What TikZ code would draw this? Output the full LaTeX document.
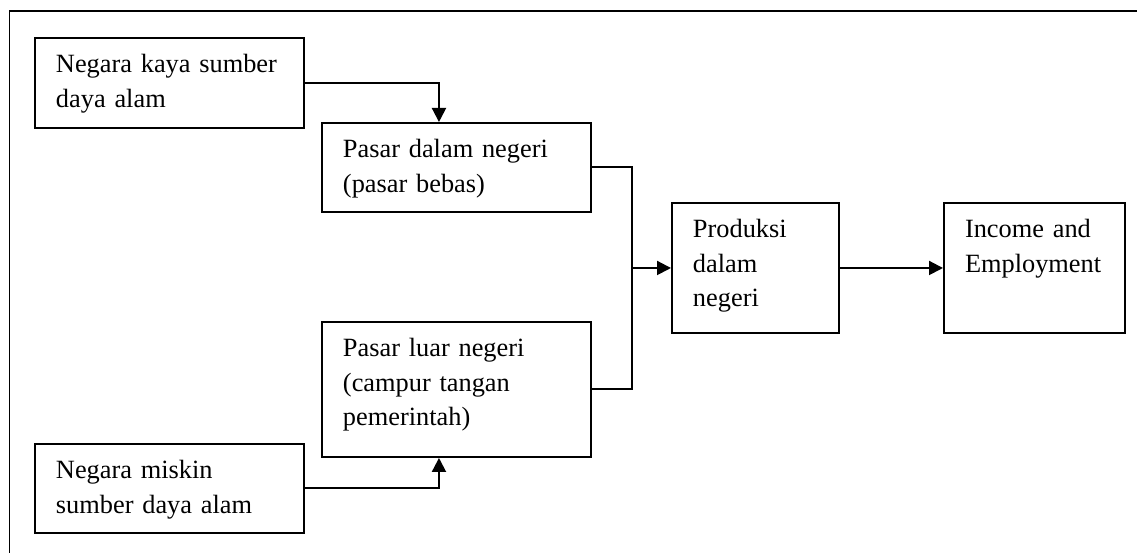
\documentclass[tikz,border=0pt]{standalone}
\usepackage{fontspec}
\setmainfont{Liberation Serif}
\usetikzlibrary{arrows.meta}
\tikzset{
  kotak/.style={draw, line width=.04cm, anchor=north west, align=left,
    inner xsep=.42cm, inner ysep=.22cm, text height=.48cm},
  panah/.style={line width=.04cm, -{Triangle[length=.28cm,width=.28cm]}},
}
\begin{document}
\begin{tikzpicture}[x=.02cm, y=-.02cm, font=\fontsize{15}{19.6}\selectfont]
  \useasboundingbox (0,0) rectangle (1137,553);
  %% bingkai
  \draw[line width=.04cm] (9.5,553) -- (9.5,11.5) -- (1137,11.5);
  %% negara
  \node[kotak, text width=4.54cm, text depth=.88cm] (kaya) at (34,37) {Negara kaya sumber\\daya alam};
  \node[kotak, text width=4.54cm, text depth=.86cm] (miskin) at (34,443) {Negara miskin\\sumber daya alam};
  %% pasar
  \node[kotak, text width=4.54cm, text depth=.86cm] (dalam) at (321,122) {Pasar dalam negeri\\(pasar bebas)};
  \node[kotak, text width=4.54cm, text depth=1.78cm] (luar) at (321,321) {Pasar luar negeri\\(campur tangan\\pemerintah)};
  %% produksi dan hasil
  \node[kotak, text width=2.5cm, text depth=1.68cm] (produksi) at (671,202) {Produksi\\dalam\\negeri};
  \node[kotak, text width=2.78cm, text depth=1.68cm] (income) at (943,202) {Income and\\Employment};
  %% panah
  \draw[panah] (kaya.east) -| ([xshift=-.35cm]dalam.north);
  \draw[panah] (miskin.east) -| ([xshift=-.35cm]luar.south);
  \coordinate (siku) at ([xshift=.8cm]dalam.east);
  \draw[line width=.04cm] (dalam.east) -- (siku) |- (luar.east);
  \draw[panah] (siku |- produksi.west) -- (produksi.west);
  \draw[panah] (produksi.east) -- (income.west);
\end{tikzpicture}
\end{document}
